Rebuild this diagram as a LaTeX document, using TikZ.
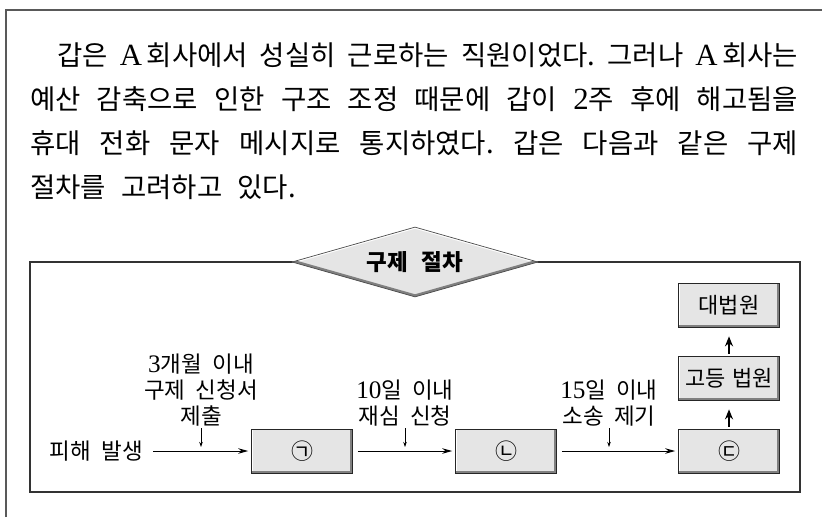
\documentclass[tikz,border=0pt]{standalone}
\usepackage{fontspec}
\setmainfont{Noto Sans CJK KR}
\newfontfamily\latin[Scale=1.12]{Liberation Serif}
\usetikzlibrary{shapes.geometric,arrows.meta}
\newcommand\lat[1]{{\latin #1}}
\newcommand\gap[1]{\spaceskip=#1em plus 0.5em minus 0.3em\relax}
\frenchspacing

\begin{document}
\begin{tikzpicture}[x=1pt,y=-1pt,
    frame/.style={line width=2pt,black!65},
    panel/.style={line width=1.2pt,black!80},
    txt/.style={anchor=west,inner sep=0pt,font=\fontsize{27.5}{30}\selectfont\gap{0.55}},
    lbl/.style={align=center,inner sep=0pt,anchor=south,font=\fontsize{22.5}{26}\selectfont\gap{0.45}},
    stage/.style={draw=black!85,line width=0.7pt,fill=black!10,minimum width=101pt,minimum height=44pt,inner sep=0pt,font=\fontsize{22}{24}\selectfont\gap{0.3},
        path picture={
            \draw[white,line width=2.4pt] (path picture bounding box.south west) -- (path picture bounding box.north west) -- (path picture bounding box.north east);
            \draw[black!50,line width=4.5pt] (path picture bounding box.south west) -- (path picture bounding box.south east) -- (path picture bounding box.north east);}},
    title/.style={diamond,aspect=3.5,minimum width=246pt,minimum height=70pt,inner sep=0pt,draw=black!70,line width=0.7pt,fill=black!10,font=\bfseries\fontsize{22.5}{26}\selectfont,
        path picture={
            \draw[white,line width=3pt] (path picture bounding box.west) -- (path picture bounding box.north) -- (path picture bounding box.east);
            \draw[black!50,line width=5pt] (path picture bounding box.west) -- (path picture bounding box.south) -- (path picture bounding box.east);}},
    flow/.style={-{Stealth[length=10pt,width=5.5pt]},line width=1pt,shorten <=5pt,shorten >=3pt},
    rise/.style={-{Stealth[length=10pt,width=8pt]},line width=2pt,shorten <=2pt,shorten >=9pt},
    drop/.style={-{Stealth[length=5pt,width=3.5pt]},line width=0.7pt,shorten <=2pt,shorten >=4pt}]
    \useasboundingbox (0,0) rectangle (822,517);
    \draw[frame] (5.5,517) -- (5.5,9.5) -- (822,9.5);
    \node[txt] (line1) at (57,55) {\makebox[741pt][s]{갑은 \lat{A}\,회사에서 성실히 근로하는 직원이었다. 그러나 \lat{A}\,회사는}};
    \node[txt] (line2) at (30,99) {\makebox[768pt][s]{예산 감축으로 인한 구조 조정 때문에 갑이 \lat{2}주 후에 해고됨을}};
    \node[txt] (line3) at (30,143) {\makebox[768pt][s]{휴대 전화 문자 메시지로 통지하였다. 갑은 다음과 같은 구제}};
    \node[txt] (line4) at (30,187) {절차를 고려하고 있다.};
    \draw[panel] (30,262) rectangle (800,492);
    \node[title] (title) at (415,262) {구제\hspace{0.6em}절차};
    \node[anchor=east,inner sep=0pt,font=\fontsize{22.5}{26}\selectfont\gap{0.45}] (start) at (143,451) {피해 발생};
    \node[stage] (box1) at (302,451) {㉠};
    \node[stage] (box2) at (506,451) {㉡};
    \node[stage] (box3) at (729,451) {㉢};
    \node[stage] (high) at (729,378) {고등 법원};
    \node[stage] (supreme) at (729,305) {대법원};
    \node[lbl] (lab1) at (201,426) {\lat{3}개월 이내\\구제 신청서\\제출};
    \node[lbl] (lab2) at (405,426) {\lat{10}일 이내\\재심 신청};
    \node[lbl] (lab3) at (609,426) {\lat{15}일 이내\\소송 제기};
    \draw[flow,shorten <=10pt] (start.east) -- (box1.west);
    \draw[flow] (box1.east) -- (box2.west);
    \draw[flow] (box2.east) -- (box3.west);
    \draw[rise] (box3.north) -- (high.south);
    \draw[rise] (high.north) -- (supreme.south);
    \draw[drop] (lab1.south) -- (lab1.south |- box1.west);
    \draw[drop] (lab2.south) -- (lab2.south |- box1.west);
    \draw[drop] (lab3.south) -- (lab3.south |- box2.west);
\end{tikzpicture}
\end{document}
